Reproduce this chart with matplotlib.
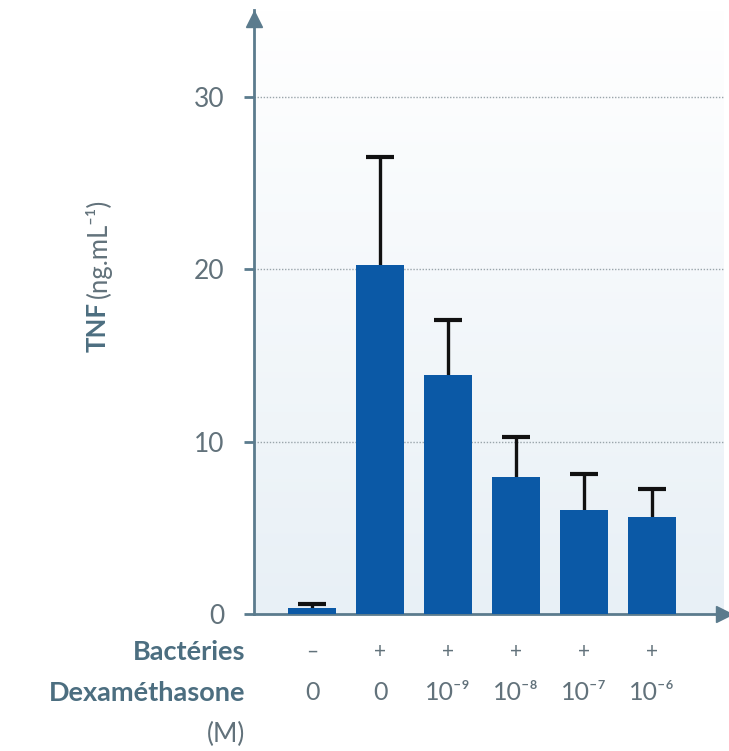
import numpy as np
import matplotlib
matplotlib.use('Agg')
import matplotlib.pyplot as plt
from matplotlib import colors

plt.rcParams['font.family'] = ['Lato', 'DejaVu Sans']

# TNF (ng/mL) par condition
tnf = [0.35, 20.25, 13.9, 7.95, 6.05, 5.65]
tnf_err = [0.25, 6.25, 3.15, 2.35, 2.05, 1.6]
bacteries = ['–', '+', '+', '+', '+', '+']
dexa = ['0', '0', '10⁻⁹', '10⁻⁸', '10⁻⁷', '10⁻⁶']
yticks = [0, 10, 20, 30]

axe_col = '#5b7b8d'
txt_col = '#62727b'
lab_col = '#4c6e80'
bar_col = '#0b59a6'

W, H = 729, 751
fig = plt.figure(figsize=(W/100, H/100), dpi=100)
# axe: x de 254 a 729 px, y de 614 (0) a 10 px (haut de la fleche)
ax = fig.add_axes([254/W, (H-614)/H, (729-254)/W, (614-10)/H])
x = np.arange(len(tnf))
xmin, xmax = (254-312)/68.0, (729-312)/68.0
ymax = (614-10)/17.23
ax.set_xlim(xmin, xmax)
ax.set_ylim(0, ymax)

# fond degrade bleu clair
grad = np.linspace(0, 1, 256).reshape(-1, 1)
bg = colors.LinearSegmentedColormap.from_list('bg', ['#e8f0f6', '#ffffff'])
ax.imshow(grad, extent=[xmin, 6.05, 0, ymax], aspect='auto', cmap=bg, origin='lower', zorder=0)

ax.hlines(yticks[1:], xmin, 6.05, colors='#9aa5ab', linestyles=(0, (1, 1.2)), linewidth=1.0, zorder=1)

ax.bar(x, tnf, width=0.72, color=bar_col, zorder=3)
# barres d'erreur (partie haute seulement)
top = np.array(tnf) + np.array(tnf_err)
ax.vlines(x, tnf, top, colors='#111111', linewidth=2.4, zorder=2)
ax.hlines(top, x - 0.21, x + 0.21, colors='#111111', linewidth=3, zorder=2)

for s in ['top', 'right']:
    ax.spines[s].set_visible(False)
for s in ['left', 'bottom']:
    ax.spines[s].set_color(axe_col)
    ax.spines[s].set_linewidth(2)
ax.plot(0, 0.985, '^', transform=ax.transAxes, clip_on=False, color=axe_col, markersize=12, zorder=5)
ax.plot(0.99, 0, '>', transform=ax.transAxes, clip_on=False, color=axe_col, markersize=12, zorder=5)

ax.set_yticks(yticks)
ax.set_yticklabels([str(v) for v in yticks], fontsize=19, color=txt_col)
ax.tick_params(axis='y', length=7, width=2, color=axe_col, pad=14)
ax.set_xticks([])

# libelles sous l'axe
for i in range(len(tnf)):
    fig.text((312+68*i)/W, (H-652)/H, bacteries[i], ha='center', va='center', fontsize=15, color=txt_col)
    fig.text((312+68*i)/W, (H-693)/H, dexa[i], ha='center', va='center', fontsize=18, color=txt_col)
fig.text(245/W, (H-652)/H, 'Bactéries', ha='right', va='center', fontsize=19.5, fontweight='bold', color=lab_col)
fig.text(245/W, (H-693)/H, 'Dexaméthasone', ha='right', va='center', fontsize=19.5, fontweight='bold', color=lab_col)
fig.text(245/W, (H-734)/H, '(M)', ha='right', va='center', fontsize=19, color=txt_col)

fig.text(98/W, (H-352)/H, 'TNF', rotation=90, ha='center', va='bottom', fontsize=18.5, fontweight='bold', color=lab_col)
fig.text(98/W, (H-298)/H, '(ng.mL⁻¹)', rotation=90, ha='center', va='bottom', fontsize=18.5, color=txt_col)

fig.savefig('out.png', dpi=100)
